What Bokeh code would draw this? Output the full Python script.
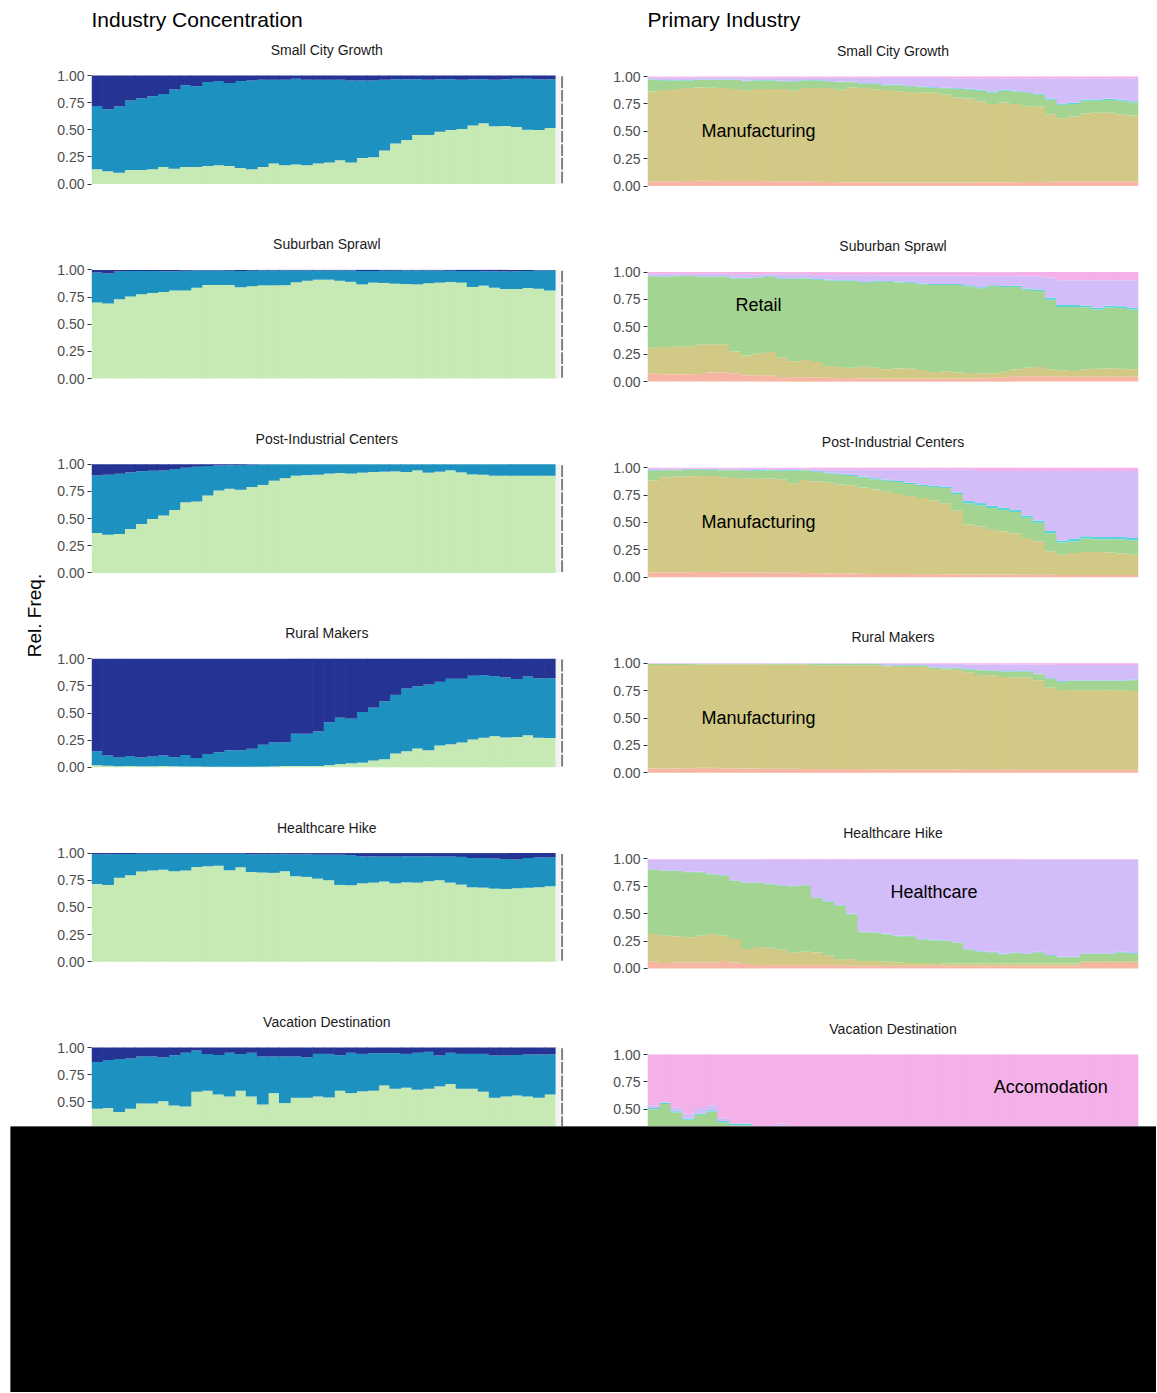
import numpy as np
from bokeh.plotting import figure
from bokeh.layouts import row, column
from bokeh.models import Range1d, FixedTicker, Spacer
from bokeh.core.properties import value
from bokeh.embed import file_html
from bokeh.resources import INLINE

FONT = "Liberation Sans"

# ---------------- data ----------------
panel_names = ["Small City Growth", "Suburban Sprawl", "Post-Industrial Centers",
               "Rural Makers", "Healthcare Hike", "Vacation Destination"]
tick_values = [0.0, 0.25, 0.5, 0.75, 1.0]
tick_labels = ["0.00", "0.25", "0.50", "0.75", "1.00"]
year_index = list(range(42))

# Industry concentration: cumulative share of "low" (light green) and "low+medium" (blue)
scg_low = [0.136,0.118,0.105,0.13,0.13,0.136,0.158,0.142,0.158,0.158,0.167,0.173,0.167,0.149,0.136,0.158,0.19,0.173,0.18,0.173,0.19,0.20,0.22,0.20,0.24,0.248,0.31,0.375,0.405,0.452,0.452,0.483,0.498,0.508,0.54,0.56,0.533,0.535,0.526,0.50,0.498,0.517]
scg_mid = [0.72,0.69,0.715,0.77,0.79,0.81,0.83,0.87,0.91,0.90,0.94,0.95,0.93,0.95,0.955,0.96,0.96,0.96,0.97,0.96,0.96,0.96,0.96,0.955,0.955,0.955,0.96,0.965,0.965,0.965,0.96,0.965,0.965,0.96,0.965,0.965,0.96,0.965,0.97,0.97,0.965,0.965]
ss_low = [0.70,0.69,0.73,0.756,0.775,0.787,0.796,0.81,0.81,0.836,0.86,0.86,0.86,0.84,0.85,0.858,0.858,0.86,0.886,0.90,0.91,0.91,0.90,0.89,0.867,0.883,0.88,0.873,0.87,0.867,0.877,0.883,0.889,0.883,0.843,0.855,0.836,0.824,0.824,0.833,0.827,0.81]
ss_mid = [0.975,0.966,0.985,0.99,0.99,0.99,0.988,0.988,0.992,0.995,0.995,0.995,0.992,0.99,0.992,0.995,0.995,0.995,0.995,0.995,0.995,0.995,0.995,0.995,0.99,0.99,0.992,0.992,0.995,0.995,0.995,0.995,0.992,0.99,0.99,0.988,0.988,0.985,0.988,0.99,0.995,0.995]
pic_low = [0.367,0.352,0.358,0.404,0.45,0.497,0.528,0.58,0.65,0.657,0.713,0.759,0.775,0.765,0.79,0.81,0.849,0.873,0.895,0.90,0.904,0.914,0.92,0.914,0.923,0.929,0.932,0.935,0.929,0.944,0.923,0.932,0.944,0.926,0.907,0.904,0.895,0.895,0.895,0.895,0.895,0.895]
pic_mid = [0.898,0.904,0.914,0.926,0.935,0.941,0.944,0.957,0.969,0.978,0.985,0.988,0.992,0.994,0.996,0.998,1,1,1,1,1,1,1,1,1,1,1,1,1,1,1,1,1,1,1,1,1,1,1,1,1,1]
rm_low = [0.018,0.015,0.01,0.012,0.01,0.01,0.012,0.01,0.008,0.008,0.006,0.006,0.006,0.006,0.006,0.006,0.008,0.012,0.012,0.012,0.012,0.02,0.03,0.037,0.043,0.062,0.074,0.127,0.148,0.173,0.157,0.20,0.213,0.228,0.256,0.272,0.287,0.275,0.278,0.296,0.272,0.269]
rm_mid = [0.148,0.108,0.09,0.105,0.09,0.099,0.108,0.093,0.114,0.086,0.123,0.139,0.157,0.157,0.17,0.207,0.231,0.231,0.309,0.309,0.33,0.414,0.457,0.448,0.509,0.549,0.608,0.667,0.725,0.747,0.762,0.787,0.815,0.815,0.843,0.849,0.84,0.827,0.812,0.836,0.821,0.821]
hh_low = [0.716,0.707,0.772,0.796,0.83,0.84,0.846,0.833,0.84,0.873,0.88,0.883,0.843,0.87,0.827,0.821,0.818,0.833,0.787,0.781,0.765,0.75,0.707,0.704,0.722,0.728,0.738,0.722,0.731,0.728,0.741,0.75,0.728,0.71,0.685,0.682,0.673,0.67,0.676,0.682,0.685,0.694]
hh_mid = [0.99,0.99,0.992,0.992,0.995,0.995,0.995,0.995,0.995,0.995,0.995,0.995,0.993,0.993,0.99,0.99,0.99,0.99,0.988,0.988,0.985,0.985,0.985,0.982,0.97,0.97,0.968,0.968,0.97,0.97,0.97,0.968,0.968,0.965,0.955,0.955,0.95,0.945,0.94,0.955,0.96,0.96]
vd_low = [0.435,0.444,0.407,0.435,0.485,0.485,0.506,0.466,0.457,0.593,0.602,0.568,0.549,0.602,0.549,0.475,0.58,0.488,0.537,0.537,0.549,0.54,0.602,0.58,0.596,0.602,0.651,0.62,0.63,0.611,0.62,0.642,0.664,0.62,0.62,0.593,0.537,0.549,0.559,0.549,0.537,0.568]
vd_mid = [0.867,0.886,0.895,0.898,0.917,0.917,0.907,0.929,0.951,0.972,0.941,0.932,0.951,0.941,0.951,0.917,0.917,0.917,0.917,0.91,0.941,0.941,0.929,0.951,0.941,0.948,0.948,0.948,0.941,0.951,0.96,0.926,0.951,0.941,0.941,0.941,0.926,0.926,0.932,0.935,0.935,0.935]

# Primary industry: cumulative tops of Other, Manufacturing, Retail; share of Finance; top of Healthcare (Accomodation above)
scg_p_oth = [0.04,0.04,0.042,0.045,0.048,0.048,0.046,0.045,0.045,0.045,0.044,0.042,0.04,0.04,0.038,0.036,0.035,0.035,0.034,0.034,0.033,0.033,0.032,0.032,0.032,0.032,0.033,0.033,0.034,0.034,0.035,0.035,0.036,0.036,0.038,0.04,0.04,0.04,0.04,0.04,0.04,0.04]
scg_p_mfg = [0.862,0.877,0.886,0.895,0.9,0.898,0.895,0.886,0.871,0.886,0.886,0.886,0.871,0.895,0.895,0.895,0.88,0.9,0.895,0.883,0.877,0.865,0.858,0.852,0.852,0.834,0.809,0.80,0.772,0.748,0.763,0.748,0.729,0.723,0.655,0.618,0.634,0.662,0.668,0.668,0.655,0.643]
scg_p_ret = [0.969,0.963,0.963,0.963,0.969,0.969,0.969,0.969,0.957,0.963,0.963,0.957,0.954,0.963,0.963,0.954,0.948,0.948,0.932,0.932,0.92,0.92,0.908,0.902,0.895,0.892,0.886,0.88,0.871,0.855,0.871,0.862,0.849,0.834,0.788,0.742,0.748,0.778,0.778,0.785,0.778,0.763]
scg_p_fin = [0.004,0.004,0.004,0.004,0.004,0.004,0.004,0.004,0.005,0.005,0.005,0.005,0.005,0.005,0.005,0.005,0.005,0.005,0.006,0.006,0.006,0.006,0.006,0.006,0.006,0.006,0.007,0.007,0.007,0.007,0.008,0.008,0.008,0.008,0.01,0.012,0.012,0.012,0.012,0.012,0.012,0.012]
scg_p_hc = [0.99,0.99,0.99,0.99,0.99,0.99,0.99,0.99,0.99,0.99,0.988,0.988,0.988,0.988,0.988,0.988,0.988,0.988,0.988,0.988,0.986,0.986,0.986,0.986,0.986,0.986,0.985,0.985,0.985,0.985,0.985,0.985,0.985,0.985,0.984,0.984,0.984,0.984,0.984,0.984,0.984,0.984]

ss_p_oth = [0.076,0.067,0.067,0.067,0.07,0.082,0.085,0.076,0.058,0.058,0.058,0.042,0.04,0.04,0.038,0.035,0.033,0.032,0.03,0.03,0.027,0.027,0.027,0.027,0.027,0.027,0.027,0.028,0.03,0.035,0.04,0.05,0.05,0.05,0.048,0.045,0.045,0.045,0.045,0.045,0.045,0.045]
ss_p_mfg = [0.309,0.315,0.318,0.318,0.336,0.342,0.336,0.276,0.239,0.255,0.27,0.218,0.185,0.197,0.179,0.142,0.133,0.127,0.136,0.127,0.112,0.121,0.118,0.106,0.088,0.094,0.082,0.079,0.076,0.076,0.091,0.112,0.127,0.133,0.112,0.103,0.097,0.112,0.118,0.121,0.118,0.112]
ss_p_ret = [0.961,0.955,0.961,0.964,0.958,0.955,0.958,0.942,0.942,0.948,0.958,0.939,0.936,0.942,0.93,0.924,0.918,0.918,0.9,0.912,0.909,0.906,0.9,0.888,0.882,0.882,0.882,0.87,0.852,0.87,0.864,0.864,0.839,0.827,0.748,0.682,0.682,0.679,0.658,0.676,0.673,0.658]
ss_p_fin = [0.005,0.005,0.005,0.005,0.005,0.005,0.005,0.006,0.006,0.006,0.006,0.006,0.006,0.006,0.007,0.007,0.007,0.007,0.008,0.008,0.008,0.008,0.008,0.008,0.009,0.009,0.009,0.01,0.01,0.01,0.01,0.012,0.012,0.014,0.018,0.018,0.018,0.016,0.016,0.016,0.016,0.016]
ss_p_hc = [0.985,0.985,0.985,0.985,0.985,0.985,0.985,0.98,0.98,0.98,0.98,0.98,0.98,0.98,0.972,0.972,0.972,0.972,0.972,0.972,0.968,0.968,0.968,0.968,0.968,0.968,0.968,0.968,0.962,0.962,0.962,0.962,0.962,0.962,0.95,0.925,0.925,0.925,0.925,0.925,0.925,0.925]

pic_p_oth = [0.043,0.045,0.045,0.045,0.048,0.048,0.045,0.045,0.045,0.042,0.04,0.04,0.04,0.038,0.036,0.035,0.034,0.033,0.032,0.03,0.03,0.03,0.029,0.028,0.028,0.027,0.026,0.025,0.025,0.024,0.024,0.023,0.022,0.022,0.022,0.021,0.021,0.02,0.02,0.02,0.02,0.02]
pic_p_mfg = [0.884,0.912,0.918,0.921,0.924,0.924,0.912,0.906,0.90,0.90,0.90,0.894,0.857,0.888,0.875,0.863,0.845,0.839,0.818,0.802,0.784,0.76,0.742,0.723,0.702,0.675,0.608,0.483,0.462,0.432,0.419,0.401,0.359,0.328,0.237,0.204,0.222,0.231,0.231,0.228,0.216,0.204]
pic_p_ret = [0.97,0.976,0.976,0.979,0.979,0.979,0.976,0.976,0.97,0.973,0.976,0.973,0.973,0.976,0.96,0.948,0.936,0.924,0.909,0.894,0.881,0.869,0.851,0.833,0.824,0.815,0.76,0.675,0.657,0.632,0.614,0.596,0.544,0.498,0.401,0.316,0.328,0.353,0.347,0.347,0.347,0.337]
pic_p_fin = [0.006,0.006,0.006,0.006,0.006,0.006,0.006,0.006,0.006,0.006,0.006,0.006,0.006,0.006,0.008,0.008,0.008,0.01,0.01,0.01,0.01,0.01,0.012,0.012,0.012,0.012,0.015,0.02,0.02,0.02,0.02,0.02,0.02,0.02,0.02,0.02,0.02,0.02,0.02,0.02,0.02,0.02]
pic_p_hc = [0.99,0.99,0.99,0.99,0.99,0.99,0.99,0.99,0.99,0.99,0.99,0.99,0.99,0.99,0.985,0.985,0.985,0.985,0.985,0.985,0.985,0.985,0.985,0.985,0.985,0.985,0.985,0.985,0.97,0.97,0.97,0.97,0.97,0.97,0.97,0.97,0.97,0.97,0.97,0.97,0.97,0.97]

rm_p_oth = [0.04,0.04,0.04,0.042,0.045,0.045,0.042,0.04,0.04,0.04,0.038,0.038,0.036,0.035,0.035,0.034,0.034,0.033,0.033,0.032,0.032,0.031,0.03,0.03,0.03,0.029,0.029,0.028,0.028,0.028,0.027,0.027,0.027,0.027,0.027,0.027,0.027,0.027,0.027,0.027,0.027,0.027]
rm_p_mfg = [0.985,0.985,0.985,0.985,0.99,0.99,0.99,0.99,0.988,0.988,0.988,0.988,0.988,0.988,0.979,0.979,0.979,0.979,0.979,0.979,0.973,0.966,0.966,0.966,0.948,0.942,0.936,0.918,0.893,0.887,0.875,0.869,0.869,0.845,0.777,0.756,0.753,0.753,0.753,0.753,0.753,0.747]
rm_p_ret = [0.993,0.993,0.993,0.993,0.993,0.993,0.993,0.993,0.993,0.993,0.993,0.993,0.993,0.993,0.993,0.993,0.993,0.993,0.993,0.993,0.979,0.979,0.979,0.979,0.96,0.954,0.954,0.942,0.936,0.93,0.924,0.924,0.924,0.899,0.857,0.832,0.838,0.838,0.838,0.838,0.838,0.845]
rm_p_fin = [0.002,0.002,0.002,0.002,0.002,0.002,0.002,0.002,0.002,0.002,0.002,0.002,0.002,0.002,0.002,0.002,0.002,0.002,0.002,0.002,0.004,0.004,0.004,0.004,0.004,0.004,0.004,0.005,0.005,0.005,0.005,0.005,0.005,0.005,0.006,0.006,0.006,0.006,0.006,0.006,0.006,0.006]
rm_p_hc = [0.997,0.997,0.997,0.997,0.997,0.997,0.997,0.997,0.997,0.997,0.997,0.997,0.997,0.997,0.997,0.997,0.997,0.997,0.997,0.997,0.995,0.995,0.995,0.995,0.993,0.993,0.993,0.99,0.99,0.99,0.99,0.99,0.99,0.988,0.986,0.985,0.985,0.985,0.985,0.985,0.985,0.985]

hh_p_oth = [0.061,0.049,0.055,0.055,0.055,0.055,0.067,0.055,0.04,0.03,0.03,0.03,0.03,0.03,0.03,0.03,0.03,0.024,0.024,0.024,0.024,0.024,0.024,0.024,0.024,0.024,0.024,0.024,0.024,0.024,0.024,0.024,0.024,0.024,0.024,0.024,0.024,0.05,0.05,0.05,0.05,0.05]
hh_p_mfg = [0.314,0.299,0.293,0.284,0.299,0.311,0.299,0.268,0.177,0.195,0.189,0.171,0.146,0.152,0.146,0.116,0.085,0.085,0.067,0.067,0.061,0.055,0.049,0.049,0.049,0.045,0.045,0.045,0.045,0.045,0.045,0.045,0.045,0.045,0.045,0.045,0.045,0.065,0.065,0.065,0.065,0.065]
hh_p_ret = [0.902,0.89,0.89,0.878,0.878,0.86,0.848,0.799,0.78,0.78,0.768,0.756,0.75,0.756,0.643,0.61,0.573,0.494,0.329,0.323,0.311,0.293,0.293,0.262,0.256,0.25,0.232,0.171,0.152,0.146,0.128,0.14,0.131,0.146,0.116,0.101,0.101,0.131,0.131,0.131,0.146,0.134]
hh_p_fin = [0.004,0.004,0.004,0.004,0.004,0.004,0.004,0.004,0.004,0.004,0.004,0.004,0.004,0.004,0.005,0.005,0.005,0.005,0.005,0.005,0.005,0.005,0.005,0.005,0.005,0.005,0.005,0.005,0.005,0.005,0.005,0.005,0.005,0.005,0.006,0.006,0.006,0.006,0.006,0.006,0.006,0.006]
hh_p_hc = [0.994,0.994,0.994,0.994,0.994,0.994,0.994,0.994,0.994,0.994,0.994,0.994,0.994,0.994,0.994,0.994,0.994,0.994,0.994,0.994,0.994,0.994,0.994,0.994,0.994,0.994,0.994,0.994,0.994,0.994,0.994,0.994,0.994,0.994,0.994,0.994,0.994,0.994,0.994,0.994,0.994,0.994]

vd_p_oth = [0.05,0.05,0.05,0.05,0.05,0.05,0.05,0.05,0.05,0.05,0.05,0.05,0.05,0.05,0.05,0.05,0.05,0.05,0.05,0.05,0.05,0.05,0.05,0.05,0.05,0.05,0.05,0.05,0.05,0.05,0.05,0.05,0.05,0.05,0.05,0.05,0.05,0.05,0.05,0.05,0.05,0.05]
vd_p_mfg = [0.15,0.15,0.15,0.14,0.14,0.14,0.13,0.13,0.13,0.13,0.12,0.12,0.12,0.12,0.12,0.11,0.11,0.11,0.11,0.11,0.1,0.1,0.1,0.1,0.1,0.1,0.1,0.1,0.1,0.1,0.1,0.1,0.1,0.1,0.1,0.1,0.1,0.1,0.1,0.1,0.1,0.1]
vd_p_ret = [0.5,0.548,0.47,0.404,0.449,0.479,0.38,0.355,0.355,0.31,0.3,0.31,0.3,0.29,0.3,0.28,0.28,0.27,0.27,0.26,0.26,0.25,0.25,0.25,0.24,0.24,0.23,0.23,0.23,0.22,0.22,0.22,0.21,0.21,0.21,0.2,0.2,0.2,0.2,0.19,0.19,0.19]
vd_p_fin = [0.012,0.012,0.012,0.012,0.012,0.012,0.012,0.012,0.012,0.012,0.012,0.012,0.012,0.012,0.012,0.012,0.012,0.012,0.012,0.012,0.012,0.012,0.012,0.012,0.012,0.012,0.012,0.012,0.012,0.012,0.012,0.012,0.012,0.012,0.012,0.012,0.012,0.012,0.012,0.012,0.012,0.012]
vd_p_hc = [0.536,0.565,0.518,0.458,0.512,0.536,0.422,0.372,0.372,0.335,0.325,0.367,0.33,0.32,0.33,0.31,0.31,0.3,0.3,0.29,0.29,0.28,0.28,0.28,0.27,0.27,0.26,0.26,0.26,0.25,0.25,0.25,0.24,0.24,0.24,0.23,0.23,0.23,0.23,0.22,0.22,0.22]

conc_low = [scg_low, ss_low, pic_low, rm_low, hh_low, vd_low]
conc_mid = [scg_mid, ss_mid, pic_mid, rm_mid, hh_mid, vd_mid]
prim_oth = [scg_p_oth, ss_p_oth, pic_p_oth, rm_p_oth, hh_p_oth, vd_p_oth]
prim_mfg = [scg_p_mfg, ss_p_mfg, pic_p_mfg, rm_p_mfg, hh_p_mfg, vd_p_mfg]
prim_ret = [scg_p_ret, ss_p_ret, pic_p_ret, rm_p_ret, hh_p_ret, vd_p_ret]
prim_fin = [scg_p_fin, ss_p_fin, pic_p_fin, rm_p_fin, hh_p_fin, vd_p_fin]
prim_hc = [scg_p_hc, ss_p_hc, pic_p_hc, rm_p_hc, hh_p_hc, vd_p_hc]

primary_label_text = ["Manufacturing", "Retail", "Manufacturing", "Manufacturing", "Healthcare", "Accomodation"]

# ---------------- styles / layout ----------------
conc_colors = ["#c7e9b4", "#1d91c0", "#253494"]
prim_colors = ["#f7b6a4", "#d1c985", "#a4d491", "#58d5db", "#d3bdf8", "#f4b0e9"]
label_x = [9, 9, 9, 9, 24, 34]
label_v = [0.5, 0.7, 0.5, 0.5, 0.7, 0.7]

FIG_H = 1118
Y_BOTTOM, Y_TOP = 1126, 8
L_TOP, L_STEP, L_H = 75.0, 194.4, 108.6
R_TOP, R_STEP, R_H = 76.0, 195.6, 109.5
BAR_W = 1.06


def to_screen(top, step, h, k, v):
    return top + k * step + h * (1.0 - np.asarray(v, dtype=float))


def make_col(width, bl, br, xr, top, step, h):
    p = figure(width=width, height=FIG_H, x_range=xr, y_range=Range1d(Y_BOTTOM, Y_TOP),
               x_axis_location=None, toolbar_location=None, output_backend="svg",
               min_border_left=bl, min_border_right=br, min_border_top=0, min_border_bottom=0,
               outline_line_color=None, background_fill_color="white", border_fill_color="white")
    p.grid.visible = False
    ticks, overrides = [], {}
    for k in range(len(panel_names)):
        for tv, tl in zip(tick_values, tick_labels):
            yv = float(to_screen(top, step, h, k, tv))
            if Y_TOP <= yv <= Y_BOTTOM:
                ticks.append(yv)
                overrides[yv] = tl
    ax = p.yaxis[0]
    ax.ticker = FixedTicker(ticks=ticks, minor_ticks=[])
    ax.major_label_overrides = overrides
    ax.axis_line_color = None
    ax.major_tick_line_color = "#333333"
    ax.major_tick_out = 4
    ax.major_tick_in = 0
    ax.minor_tick_line_color = None
    ax.major_label_standoff = 3
    ax.major_label_text_font = FONT
    ax.major_label_text_font_size = "14px"
    ax.major_label_text_color = "#4d4d4d"
    return p


x = np.array(year_index, dtype=float)

# ---- left column ----
pL = make_col(532, 43, 14, Range1d(-0.5, 42.5), L_TOP, L_STEP, L_H)
for k in range(len(panel_names)):
    bounds = [np.zeros(len(x)), np.array(conc_low[k]), np.array(conc_mid[k]), np.ones(len(x))]
    for i, c in enumerate(conc_colors):
        pL.vbar(x=x, width=BAR_W,
                bottom=to_screen(L_TOP, L_STEP, L_H, k, bounds[i]),
                top=to_screen(L_TOP, L_STEP, L_H, k, bounds[i + 1]),
                fill_color=c, line_color=None)
    # light strip and segmented grey edge at the right of each panel
    pL.quad(left=[41.53], right=[41.95],
            bottom=[float(to_screen(L_TOP, L_STEP, L_H, k, 0.0))],
            top=[float(to_screen(L_TOP, L_STEP, L_H, k, 1.0))],
            fill_color="#f3f3f3", line_color=None)
    seg_lo = np.arange(8) / 8.0 + 0.008
    seg_hi = (np.arange(8) + 1) / 8.0 - 0.008
    pL.segment(x0=[42.1] * 8, x1=[42.1] * 8,
               y0=to_screen(L_TOP, L_STEP, L_H, k, seg_lo),
               y1=to_screen(L_TOP, L_STEP, L_H, k, seg_hi),
               line_color="#808080", line_width=2)
    pL.text(x=[20.8], y=[float(to_screen(L_TOP, L_STEP, L_H, k, 1.0)) - 25.5], text=[panel_names[k]],
            text_align="center", text_baseline="middle", text_font=value(FONT),
            text_font_size="14px", text_color="#1a1a1a")
pL.text(x=[-0.5], y=[19], text=["Industry Concentration"], text_align="left", text_baseline="middle",
        text_font=value(FONT), text_font_size="21px", text_color="black")

# ---- right column ----
pR = make_col(567, 67, 9, Range1d(-0.5, 41.5), R_TOP, R_STEP, R_H)
for k in range(len(panel_names)):
    ret = np.array(prim_ret[k])
    bounds = [np.zeros(len(x)), np.array(prim_oth[k]), np.array(prim_mfg[k]), ret,
              ret + np.array(prim_fin[k]), np.array(prim_hc[k]), np.ones(len(x))]
    for i, c in enumerate(prim_colors):
        pR.vbar(x=x, width=BAR_W,
                bottom=to_screen(R_TOP, R_STEP, R_H, k, bounds[i]),
                top=to_screen(R_TOP, R_STEP, R_H, k, bounds[i + 1]),
                fill_color=c, line_color=None)
    pR.text(x=[20.5], y=[float(to_screen(R_TOP, R_STEP, R_H, k, 1.0)) - 26], text=[panel_names[k]],
            text_align="center", text_baseline="middle", text_font=value(FONT),
            text_font_size="14px", text_color="#1a1a1a")
    pR.text(x=[label_x[k]], y=[float(to_screen(R_TOP, R_STEP, R_H, k, label_v[k]))],
            text=[primary_label_text[k]], text_align="center", text_baseline="middle",
            text_font=value(FONT), text_font_size="18px", text_color="black")
pR.text(x=[-0.5], y=[19], text=["Primary Industry"], text_align="left", text_baseline="middle",
        text_font=value(FONT), text_font_size="21px", text_color="black")

# ---- shared y label ----
pLab = figure(width=40, height=FIG_H, x_range=Range1d(8, 48), y_range=Range1d(Y_BOTTOM, Y_TOP),
              x_axis_location=None, y_axis_location=None, toolbar_location=None, output_backend="svg",
              min_border=0, outline_line_color=None)
pLab.grid.visible = False
pLab.text(x=[34], y=[615], text=["Rel. Freq."], angle=np.pi / 2, text_align="center",
          text_baseline="middle", text_font=value(FONT), text_font_size="19px", text_color="black")

# ---- black band at the bottom ----
pBlack = figure(width=1146, height=266, x_range=Range1d(0, 1), y_range=Range1d(0, 1),
                x_axis_location=None, y_axis_location=None, toolbar_location=None, output_backend="svg",
                min_border=0, outline_line_color=None, background_fill_color="black",
                border_fill_color="black")
pBlack.grid.visible = False
pBlack.quad(left=[0], right=[1], bottom=[0], top=[1], fill_color="black", line_color=None)

layout = column(Spacer(width=8, height=8),
                row(Spacer(width=8, height=FIG_H), pLab, pL, pR),
                row(Spacer(width=10, height=266), pBlack))

open("out.html", "w").write(file_html(layout, INLINE))
